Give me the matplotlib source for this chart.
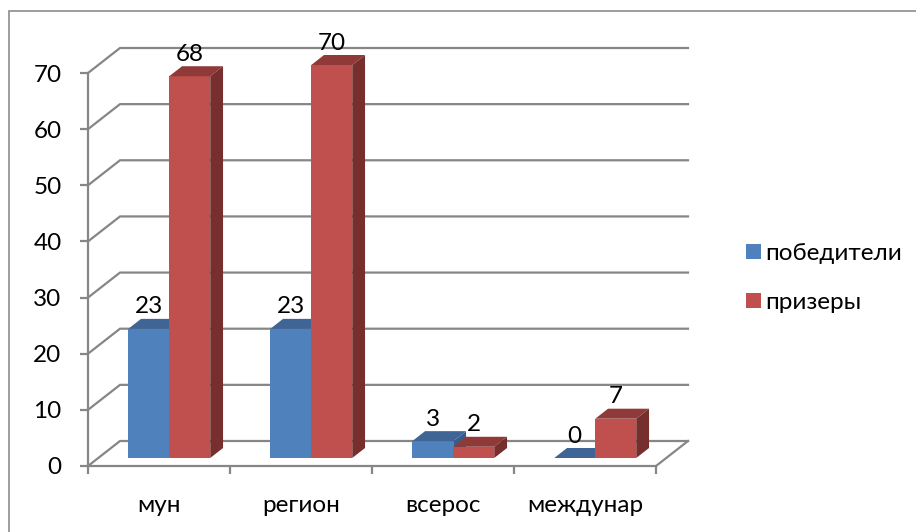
import matplotlib.pyplot as plt
from matplotlib.patches import Polygon, Rectangle, Patch
import numpy as np

plt.rcParams['font.family'] = ['Lato', 'DejaVu Sans']

categories = ['мун', 'регион', 'всерос', 'междунар']
series_names = ['победители', 'призеры']
pobediteli = [23, 23, 3, 0]
prizery = [68, 70, 2, 7]
y_ticks = [0, 10, 20, 30, 40, 50, 60, 70]

face_col = ['#4F81BD', '#C0504D']
top_col = ['#3E6595', '#8F3A38']
side_col = ['#385D8A', '#772F2D']
grid_col = '#868686'
FS = 17.5

W, H = 916, 532
fig = plt.figure(figsize=(W / 100, H / 100), dpi=100)
fig.patch.set_facecolor('white')

# chart border (only top and left visible in the crop)
fig.patches.append(Rectangle((9 / W, -0.1), 1.2, 1 - 11 / H + 0.1, transform=fig.transFigure,
                             fill=False, edgecolor='#8C8C8C', lw=1.2))

# front plane of the 3d box
ax = fig.add_axes([88 / W, (H - 466) / H, (656 - 88) / W, (466 - 73) / H])
ax.set_xlim(0, len(categories))
ax.set_ylim(0, 70)
ax.patch.set_visible(False)

# depth of the box in data units
DX = 32 / 142
DY = 25 / (393 / 70)
f0, f1 = 0.32, 0.72
bw = 41 / 142

# back wall gridlines + side wall diagonals
for v in y_ticks:
    ax.plot([0, DX, len(categories) + DX], [v, v + DY, v + DY], color=grid_col, lw=1.6,
            clip_on=False, zorder=1, solid_joinstyle='miter')
ax.plot([len(categories), len(categories) + DX], [0, DY], color=grid_col, lw=1.6, clip_on=False, zorder=1)

# bars
for i in range(len(categories)):
    c = i + 0.5
    for s, vals in enumerate([pobediteli, prizery]):
        v = vals[i]
        x0 = c - bw + s * bw
        x1 = x0 + bw
        ox0, oy0 = f0 * DX, f0 * DY
        ox1, oy1 = f1 * DX, f1 * DY
        front = Polygon([(x0 + ox0, oy0), (x1 + ox0, oy0), (x1 + ox0, v + oy0), (x0 + ox0, v + oy0)],
                        closed=True, facecolor=face_col[s], edgecolor='none', clip_on=False, zorder=3)
        top = Polygon([(x0 + ox0, v + oy0), (x1 + ox0, v + oy0), (x1 + ox1, v + oy1), (x0 + ox1, v + oy1)],
                      closed=True, facecolor=top_col[s], edgecolor='none', clip_on=False, zorder=3)
        side = Polygon([(x1 + ox0, oy0), (x1 + ox1, oy1), (x1 + ox1, v + oy1), (x1 + ox0, v + oy0)],
                       closed=True, facecolor=side_col[s], edgecolor='none', clip_on=False, zorder=3)
        for p in (front, top, side):
            ax.add_patch(p)
        ax.annotate(str(v), ((x0 + x1) / 2 + ox0, v + oy1), xytext=(0, 1), textcoords='offset points',
                    ha='center', va='bottom', fontsize=FS, color='black', zorder=5, annotation_clip=False)

# axes styling
for sp in ['top', 'right']:
    ax.spines[sp].set_visible(False)
for sp in ['left', 'bottom']:
    ax.spines[sp].set_color(grid_col)
    ax.spines[sp].set_linewidth(1.6)
    ax.spines[sp].set_zorder(2)

ax.set_yticks(y_ticks)
ax.set_yticklabels([str(t) for t in y_ticks])
ax.tick_params(axis='y', length=6, width=1.6, color=grid_col, pad=13, labelsize=FS)
ax.set_xticks(np.arange(len(categories) + 1))
ax.set_xticklabels([])
ax.tick_params(axis='x', which='major', length=6, width=1.6, color=grid_col)
ax.set_xticks(np.arange(len(categories)) + 0.5, minor=True)
ax.set_xticklabels(categories, minor=True)
ax.tick_params(axis='x', which='minor', length=0, pad=21, labelsize=FS)

handles = [Patch(facecolor=face_col[k], edgecolor='none', label=series_names[k]) for k in range(2)]
fig.legend(handles=handles, loc='center left', bbox_to_anchor=(736 / W, 1 - 278 / H), frameon=False,
           fontsize=FS, handlelength=0.62, handleheight=0.62, handletextpad=0.2, labelspacing=1.15,
           borderaxespad=0)

fig.savefig('out.png', dpi=100, facecolor='white')
